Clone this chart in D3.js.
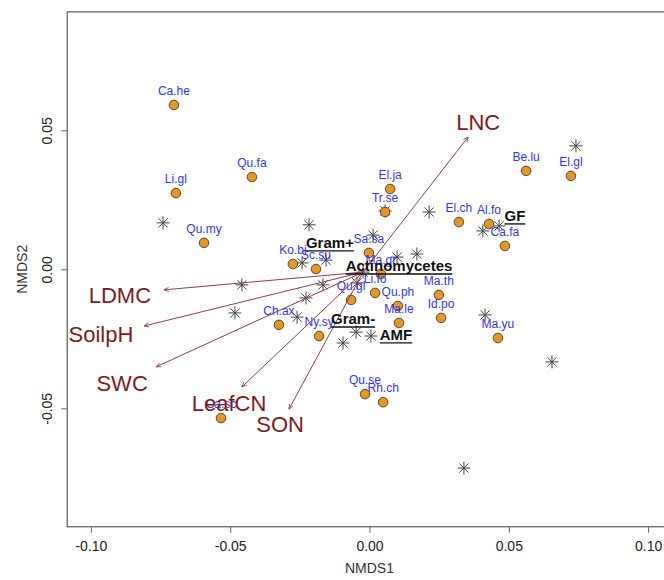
<!DOCTYPE html>
<html>
<head>
<meta charset="utf-8">
<script src="https://cdn.jsdelivr.net/npm/d3@7"></script>
<style>
  body { margin: 0; background: #fff; }
  svg { display: block; font-family: "Liberation Sans", Arial, sans-serif; }
</style>
</head>
<body>
<svg id="chart"></svg>
<script>
// species scores (orange points + blue labels)
const speciesNames = ["Ca.he", "Li.gl", "Qu.fa", "Qu.my", "Ko.bi", "Sc.su", "Sa.sa", "Ma.gr", "Li.fo",
  "Qu.gl", "Qu.ph", "Ma.le", "Ma.th", "Id.po", "Ch.ax", "Ny.sy", "Ca.sc", "Tr.se", "El.ja", "El.ch",
  "Al.fo", "Ca.fa", "Be.lu", "El.gl", "Qu.se", "Rh.ch", "Ma.yu"];
const speciesX = [-0.0702, -0.0695, -0.0422, -0.0594, -0.0275, -0.0192, -0.0002, 0.0041, 0.0020,
  -0.0066, 0.0102, 0.0106, 0.0249, 0.0257, -0.0325, -0.0181, -0.0533, 0.0056, 0.0074, 0.0321,
  0.0429, 0.0486, 0.0562, 0.0723, -0.0016, 0.0049, 0.0461];
const speciesY = [0.0591, 0.0274, 0.0332, 0.0095, 0.0019, 0.0001, 0.0059, -0.0017, -0.0085,
  -0.0110, -0.0132, -0.0193, -0.0092, -0.0175, -0.0200, -0.0240, -0.0535, 0.0206, 0.0289, 0.0170,
  0.0163, 0.0084, 0.0354, 0.0336, -0.0449, -0.0478, -0.0247];

// site scores (asterisks)
const siteX = [0.0741, -0.0741, -0.0217, 0.0214, 0.0407, 0.0465, 0.0013, 0.0056, 0.0099, 0.0170,
  -0.0242, -0.0156, -0.0458, -0.0167, -0.0045, -0.0023, -0.0228, -0.0260, -0.0048, 0.0005,
  -0.0095, -0.0483, 0.0415, 0.0655, 0.0339];
const siteY = [0.0444, 0.0167, 0.0160, 0.0206, 0.0138, 0.0156, 0.0123, 0.0210, 0.0044, 0.0055,
  0.0023, 0.0033, -0.0056, -0.0056, -0.0049, -0.0010, -0.0103, -0.0172, -0.0226, -0.0240,
  -0.0265, -0.0157, -0.0164, -0.0333, -0.0715];

// environmental vectors
const arrowOrigin = [-0.0023, -0.0010];
const vectorNames = ["LNC", "LDMC", "SoilpH", "SWC", "LeafCN", "SON"];
const vectorX = [0.0354, -0.0738, -0.0809, -0.0766, -0.0458, -0.0289];
const vectorY = [0.0476, -0.0074, -0.0204, -0.0351, -0.0423, -0.0503];
const vectorLabelX = [0.0390, -0.0896, -0.0964, -0.0888, -0.0504, -0.0321];
const vectorLabelY = [0.0530, -0.0092, -0.0233, -0.0409, -0.0481, -0.0557];

// microbial groups
const groupNames = ["Gram+", "Actinomycetes", "Gram-", "AMF", "GF"];
const groupX = [-0.0142, 0.0106, -0.0059, 0.0095, 0.0522];
const groupY = [0.0095, 0.0012, -0.0179, -0.0236, 0.0192];

const xTicks = [-0.10, -0.05, 0.00, 0.05, 0.10];
const yTicks = [-0.05, 0.00, 0.05];

const drawGraph = (selector) => {
  const width = 664;
  const height = 580;

  const svg = d3.select(selector).attr("width", width).attr("height", height);

  // Escalas (same units per pixel on both axes)
  const xScale = d3.scaleLinear().domain([-0.10, 0.10]).range([90.9, 648.1]);
  const yScale = d3.scaleLinear().domain([-0.05, 0.05]).range([408.3, 130.3]);

  const left = xScale(-0.1085);
  const right = xScale(0.1085);
  const top = yScale(0.0926);
  const bottom = yScale(-0.0926);

  // Box
  svg
    .append("rect")
    .attr("x", left)
    .attr("y", top)
    .attr("width", right - left)
    .attr("height", bottom - top)
    .attr("fill", "none")
    .attr("stroke", "#666")
    .attr("stroke-width", 1.3);

  // Eixos
  const xAxis = d3.axisBottom(xScale).tickValues(xTicks).tickSize(6).tickFormat((d) => d.toFixed(2));
  const yAxis = d3.axisLeft(yScale).tickValues(yTicks).tickSize(6).tickFormat((d) => d.toFixed(2));

  const gx = svg.append("g").attr("transform", `translate(0, ${bottom})`).call(xAxis);
  gx.select(".domain").remove();
  gx.selectAll(".tick line").attr("stroke", "#666");
  gx.selectAll(".tick text")
    .attr("y", 14)
    .attr("fill", "#222")
    .style("font-size", "14px")
    .style("font-family", "Liberation Sans, Arial, sans-serif");

  const gy = svg.append("g").attr("transform", `translate(${left}, 0)`).call(yAxis);
  gy.select(".domain").remove();
  gy.selectAll(".tick line").attr("stroke", "#666");
  gy.selectAll(".tick text")
    .attr("transform", "rotate(-90)")
    .attr("x", 0)
    .attr("y", -15)
    .attr("dy", 0)
    .attr("fill", "#222")
    .style("text-anchor", "middle")
    .style("font-size", "14px")
    .style("font-family", "Liberation Sans, Arial, sans-serif");

  svg
    .append("text")
    .attr("x", xScale(0))
    .attr("y", 573)
    .attr("text-anchor", "middle")
    .attr("fill", "#333")
    .style("font-size", "14px")
    .text("NMDS1");

  svg
    .append("text")
    .attr("transform", `translate(27, ${yScale(0)}) rotate(-90)`)
    .attr("text-anchor", "middle")
    .attr("fill", "#333")
    .style("font-size", "14px")
    .text("NMDS2");

  // Sites (asterisks)
  svg
    .selectAll(".site")
    .data(siteX)
    .enter()
    .append("path")
    .attr("class", "site")
    .attr("transform", (d, i) => `translate(${xScale(d)}, ${yScale(siteY[i])})`)
    .attr("d", "M-6.5,0H6.5M0,-6.5V6.5M-4.6,-4.6L4.6,4.6M-4.6,4.6L4.6,-4.6")
    .attr("stroke", "#444")
    .attr("stroke-width", 1)
    .attr("fill", "none");

  // Species
  svg
    .selectAll(".sp")
    .data(speciesX)
    .enter()
    .append("circle")
    .attr("class", "sp")
    .attr("cx", (d) => xScale(d))
    .attr("cy", (d, i) => yScale(speciesY[i]))
    .attr("r", 4.8)
    .attr("fill", "#E3962A")
    .attr("stroke", "#3a2a10")
    .attr("stroke-width", 0.8);

  svg
    .selectAll(".sp-label")
    .data(speciesNames)
    .enter()
    .append("text")
    .attr("class", "sp-label")
    .attr("x", (d, i) => xScale(speciesX[i]))
    .attr("y", (d, i) => yScale(speciesY[i]) - 10)
    .attr("text-anchor", "middle")
    .attr("fill", "#3434EE")
    .style("font-size", "12px")
    .text((d) => d);

  // Arrows
  svg
    .append("defs")
    .append("marker")
    .attr("id", "head")
    .attr("viewBox", "-8 -5 10 10")
    .attr("markerWidth", 8)
    .attr("markerHeight", 8)
    .attr("markerUnits", "userSpaceOnUse")
    .attr("orient", "auto")
    .append("path")
    .attr("d", "M-6,-2.6L0,0L-6,2.6")
    .attr("fill", "none")
    .attr("stroke", "#8B3F45")
    .attr("stroke-width", 1);

  svg
    .selectAll(".vec")
    .data(vectorNames)
    .enter()
    .append("line")
    .attr("class", "vec")
    .attr("x1", xScale(arrowOrigin[0]))
    .attr("y1", yScale(arrowOrigin[1]))
    .attr("x2", (d, i) => xScale(vectorX[i]))
    .attr("y2", (d, i) => yScale(vectorY[i]))
    .attr("stroke", "#8B3F45")
    .attr("stroke-width", 1)
    .attr("marker-end", "url(#head)");

  svg
    .selectAll(".vec-label")
    .data(vectorNames)
    .enter()
    .append("text")
    .attr("class", "vec-label")
    .attr("x", (d, i) => xScale(vectorLabelX[i]))
    .attr("y", (d, i) => yScale(vectorLabelY[i]))
    .attr("dy", "0.36em")
    .attr("text-anchor", "middle")
    .attr("fill", "#7A1C22")
    .style("font-size", "22px")
    .text((d) => d);

  // Microbial groups, bold + underlined
  const groups = svg
    .selectAll(".grp")
    .data(groupNames)
    .enter()
    .append("g")
    .attr("class", "grp");

  groups
    .append("text")
    .attr("x", (d, i) => xScale(groupX[i]))
    .attr("y", (d, i) => yScale(groupY[i]))
    .attr("dy", "0.36em")
    .attr("text-anchor", "middle")
    .attr("fill", "#111")
    .style("font-size", "15px")
    .style("font-weight", "bold")
    .text((d) => d);

  groups.each(function (d, i) {
    const t = d3.select(this).select("text");
    const w = t.node().getComputedTextLength();
    const cx = xScale(groupX[i]);
    const cy = yScale(groupY[i]);
    d3.select(this)
      .append("line")
      .attr("x1", cx - w / 2)
      .attr("x2", cx + w / 2)
      .attr("y1", cy + 8)
      .attr("y2", cy + 8)
      .attr("stroke", "#111")
      .attr("stroke-width", 1.4);
  });
};

drawGraph("#chart");
</script>
</body>
</html>
